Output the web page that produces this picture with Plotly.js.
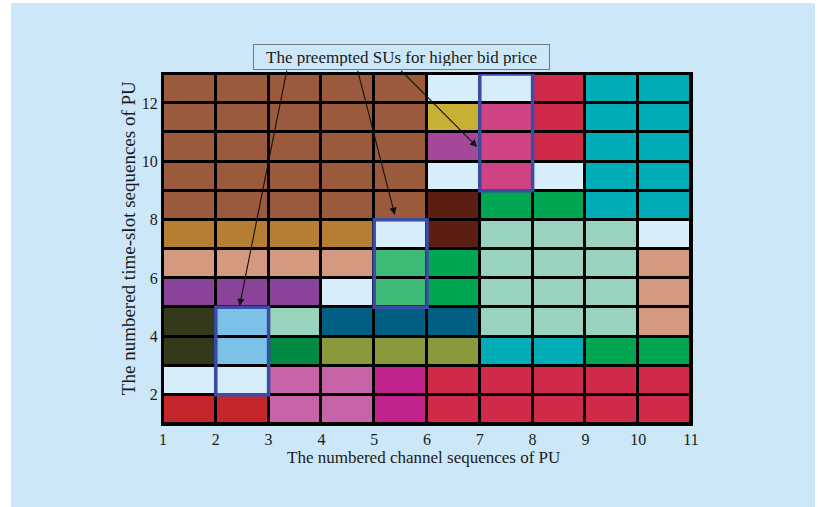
<!DOCTYPE html>
<html>
<head>
<meta charset="utf-8">
<script src="https://cdn.plot.ly/plotly-3.0.1.min.js"></script>
<style>
  html, body { margin: 0; padding: 0; background: #ffffff; }
  #bg { position: absolute; left: 11px; top: 3px; width: 804px; height: 504px; background: #cce8f8; }
  #chart { position: absolute; left: 0; top: 0; width: 818px; height: 507px; }
</style>
</head>
<body>
<div id="bg"></div>
<div id="chart"></div>
<script>
// Cell edges
const channelEdges = [1, 2, 3, 4, 5, 6, 7, 8, 9, 10, 11];
const slotEdges = [1, 2, 3, 4, 5, 6, 7, 8, 9, 10, 11, 12, 13];
const xTicks = [1, 2, 3, 4, 5, 6, 7, 8, 9, 10, 11];
const yTicks = [2, 4, 6, 8, 10, 12];

// Palette of SU colours (E = idle slot)
const paletteKeys = ['E','BR','YE','PU','PK','CR','TE','DB','GR','OC','MI','SA','MG','PP','DO','LB','DT','DG','OL','OR','MA','RD'];
const paletteColors = ['#d7edf9','#9b5a3c','#c8b035','#a5489a','#cf4384','#cf2a4a','#00adb6','#5c1d13','#00a651','#b67e32','#99d3be','#d49a80','#3dba78','#8a4399','#33391a','#7cc1e8','#005f82','#008a46','#899a3d','#c763a8','#c1228b','#c5262b'];

// Rows listed from bottom time slot (1-2) to top (12-13), channels 1..10
const row1  = ['RD','RD','OR','OR','MA','CR','CR','CR','CR','CR'];
const row2  = ['E','E','OR','OR','MA','CR','CR','CR','CR','CR'];
const row3  = ['DO','LB','DG','OL','OL','OL','TE','TE','GR','GR'];
const row4  = ['DO','LB','MI','DT','DT','DT','MI','MI','MI','SA'];
const row5  = ['PP','PP','PP','E','MG','GR','MI','MI','MI','SA'];
const row6  = ['SA','SA','SA','SA','MG','GR','MI','MI','MI','SA'];
const row7  = ['OC','OC','OC','OC','E','DB','MI','MI','MI','E'];
const row8  = ['BR','BR','BR','BR','BR','DB','GR','GR','TE','TE'];
const row9  = ['BR','BR','BR','BR','BR','E','PK','E','TE','TE'];
const row10 = ['BR','BR','BR','BR','BR','PU','PK','CR','TE','TE'];
const row11 = ['BR','BR','BR','BR','BR','YE','PK','CR','TE','TE'];
const row12 = ['BR','BR','BR','BR','BR','E','E','CR','TE','TE'];

// Preempted SU blocks: channel start, slot start, slot end
const preemptChannel = [2, 5, 7];
const preemptFrom = [2, 5, 9];
const preemptTo = [5, 8, 13];

// Arrow tips and tails (data coordinates)
const arrowTipX = [2.45, 5.39, 6.95];
const arrowTipY = [5.05, 8.17, 10.5];
const arrowTailX = [3.35, 4.68, 5.48];
const arrowTailY = [13.17, 13.17, 13.17];
const labelText = 'The preempted SUs for higher bid price';
const xTitle = 'The numbered channel sequences of PU';
const yTitle = 'The numbered time-slot sequences of PU';

const rows = [row1,row2,row3,row4,row5,row6,row7,row8,row9,row10,row11,row12];
const z = rows.map(r => r.map(k => paletteKeys.indexOf(k)));
const n = paletteColors.length;
const colorscale = [];
paletteColors.forEach((c, i) => {
  colorscale.push([i / n, c]);
  colorscale.push([(i + 1) / n, c]);
});

const heat = {
  type: 'heatmap',
  x: channelEdges,
  y: slotEdges,
  z: z,
  zmin: -0.5,
  zmax: n - 0.5,
  colorscale: colorscale,
  showscale: false,
  xgap: 3,
  ygap: 3,
  hoverinfo: 'skip'
};

const shapes = preemptChannel.map((c, i) => ({
  type: 'rect', xref: 'x', yref: 'y',
  x0: c, x1: c + 1, y0: preemptFrom[i], y1: preemptTo[i],
  line: { color: '#3b4ca5', width: 3.5 },
  fillcolor: 'rgba(0,0,0,0)'
}));

const serif = '"Liberation Serif", "Times New Roman", serif';
const annotations = arrowTipX.map((x, i) => ({
  x: x, y: arrowTipY[i], xref: 'x', yref: 'y',
  ax: arrowTailX[i], ay: arrowTailY[i], axref: 'x', ayref: 'y',
  text: '', showarrow: true, arrowhead: 2, arrowsize: 1.3, arrowwidth: 1.1,
  arrowcolor: '#111111', standoff: 0, startstandoff: 0
}));
annotations.push({
  x: 0.4508, y: 1.0486, xref: 'paper', yref: 'paper',
  xanchor: 'center', yanchor: 'middle',
  text: labelText, showarrow: false,
  font: { family: serif, size: 17, color: '#1a1a1a' },
  bordercolor: '#6e7a80', borderwidth: 1, borderpad: 3,
  width: 289, height: 18, bgcolor: 'rgba(0,0,0,0)'
});
annotations.push({
  x: 0.494, y: -0.0943, xref: 'paper', yref: 'paper',
  xanchor: 'center', yanchor: 'middle',
  text: xTitle, showarrow: false,
  font: { family: serif, size: 17, color: '#1a1a1a' }
});
annotations.push({
  x: -0.0663, y: 0.531, xref: 'paper', yref: 'paper',
  xanchor: 'center', yanchor: 'middle', textangle: -90,
  text: yTitle, showarrow: false,
  font: { family: serif, size: 19, color: '#1a1a1a' }
});

const layout = {
  width: 818, height: 507,
  margin: { l: 163, r: 127, t: 74, b: 83 },
  paper_bgcolor: 'rgba(0,0,0,0)',
  plot_bgcolor: '#000000',
  showlegend: false,
  xaxis: {
    range: [1, 11], tickvals: xTicks, ticktext: xTicks.map(String),
    ticks: '', showgrid: false, zeroline: false,
    showline: true, mirror: true, linecolor: '#000000', linewidth: 2,
    tickfont: { family: serif, size: 16, color: '#1a1a1a' },
    fixedrange: true
  },
  yaxis: {
    range: [1, 13], tickvals: yTicks, ticktext: yTicks.map(String),
    ticks: '', showgrid: false, zeroline: false,
    showline: true, mirror: true, linecolor: '#000000', linewidth: 2,
    tickfont: { family: serif, size: 16, color: '#1a1a1a' },
    fixedrange: true
  },
  shapes: shapes,
  annotations: annotations
};

Plotly.newPlot('chart', [heat], layout, { displayModeBar: false, staticPlot: true });
</script>
</body>
</html>
